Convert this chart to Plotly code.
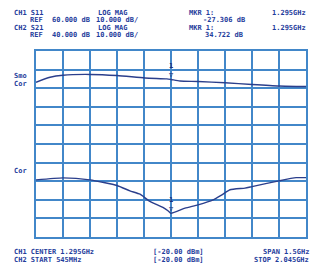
import plotly.graph_objects as go

# ---- data ----
ch1_freq_mhz = [545, 623, 695, 845, 995, 1151, 1272, 1295, 1345, 1445, 1595, 1745, 1895, 2045]
ch1_s11_db = [-28.8, -26.1, -25.0, -24.6, -25.2, -26.5, -27.0, -27.306, -28.1, -28.4, -29.1, -30.0, -30.8, -31.1]

ch2_freq_mhz = [545, 695, 845, 995, 1067, 1123, 1178, 1250, 1278, 1295, 1373, 1445,
                1529, 1578, 1623, 1706, 1745, 1895, 1990, 2045]
ch2_s21_db = [52.7, 53.8, 52.7, 49.7, 46.8, 45.0, 41.1, 37.9, 36.1, 34.722, 37.5, 39.3,
              42.0, 44.7, 47.4, 48.3, 49.1, 52.2, 53.9, 53.9]

marker_freq_mhz = 1295
marker_ch1_db = -27.306
marker_ch2_db = 34.722

header_rows = [
    ["CH1 S11", "LOG MAG", "MKR 1:", "1.295GHz"],
    ["REF", "60.000 dB", "10.000 dB/", "-27.306 dB"],
    ["CH2 S21", "LOG MAG", "MKR 1:", "1.295GHz"],
    ["REF", "40.000 dB", "10.000 dB/", "34.722 dB"],
]
footer_rows = [
    ["CH1 CENTER 1.295GHz", "[-20.00 dBm]", "SPAN 1.5GHz"],
    ["CH2 START 545MHz", "[-20.00 dBm]", "STOP 2.045GHz"],
]

# ---- style ----
W, H = 320, 275
L, R, T, B = 36, 14, 51, 38
GRID = "#4287c9"
TRACE = "#2b3f8c"
TXT = "#1f3d9c"
FONT = "DejaVu Sans Mono"
FS = 7

pw, ph = W - L - R, H - T - B


def px(xp):
    return (xp - L) / pw


def py(yp):
    return (H - B - yp) / ph


fig = go.Figure()
fig.add_trace(go.Scatter(x=ch1_freq_mhz, y=ch1_s11_db, mode="lines",
                         line=dict(color=TRACE, width=1.4, shape="spline", smoothing=0.6),
                         yaxis="y", hoverinfo="skip", showlegend=False))
fig.add_trace(go.Scatter(x=ch2_freq_mhz, y=ch2_s21_db, mode="lines",
                         line=dict(color=TRACE, width=1.4, shape="spline", smoothing=0.5),
                         yaxis="y2", hoverinfo="skip", showlegend=False))

anns = []
# markers: "1" above an open down-triangle whose tip sits on the trace
for yref, val in (("y", marker_ch1_db), ("y2", marker_ch2_db)):
    anns.append(dict(x=marker_freq_mhz, y=val, xref="x", yref=yref,
                     text="<b>1</b><br>▽",
                     showarrow=False, yanchor="bottom", yshift=-1, borderpad=0,
                     font=dict(family="DejaVu Sans Mono", size=7, color="#1f2f78")))

header_y = [13.5, 20.5, 28, 35]
header_x = [(12.7, "left"), (97, "left"), (188, "left"), (307, "right")]
header_x2 = [(29, "left"), (51, "left"), (95, "left"), (202, "left")]
for i, row in enumerate(header_rows):
    xs = header_x if i % 2 == 0 else header_x2
    for j, t in enumerate(row):
        xp, anc = xs[j]
        if i == 3 and j == 3:
            xp = 204
        anns.append(dict(x=px(xp), y=py(header_y[i]), xref="paper", yref="paper",
                         text="<b>" + t + "</b>", showarrow=False, xanchor=anc,
                         yanchor="middle", borderpad=0,
                         font=dict(family=FONT, size=FS, color=TXT)))

footer_y = [251.5, 259.5]
footer_x = [(13.3, "left"), (151.7, "left"), (310, "right")]
for i, row in enumerate(footer_rows):
    for j, t in enumerate(row):
        xp, anc = footer_x[j]
        anns.append(dict(x=px(xp), y=py(footer_y[i]), xref="paper", yref="paper",
                         text="<b>" + t + "</b>", showarrow=False, xanchor=anc,
                         yanchor="middle", borderpad=0,
                         font=dict(family=FONT, size=FS, color=TXT)))

for t, yp in (("Smo", 75.7), ("Cor", 84), ("Cor", 171)):
    anns.append(dict(x=px(12.7), y=py(yp), xref="paper", yref="paper",
                     text="<b>" + t + "</b>", showarrow=False, xanchor="left",
                     yanchor="middle", borderpad=0,
                     font=dict(family=FONT, size=FS, color=TXT)))

fig.update_layout(
    width=W, height=H,
    margin=dict(l=L, r=R, t=T, b=B, pad=0),
    paper_bgcolor="white", plot_bgcolor="white",
    showlegend=False,
    xaxis=dict(range=[545, 2045], dtick=150, tick0=545, showgrid=True, gridcolor=GRID,
               gridwidth=1.5, showline=True, mirror=True, linecolor=GRID, linewidth=1.5,
               showticklabels=False, ticks="", zeroline=False, fixedrange=True),
    yaxis=dict(range=[-112, -12], dtick=10, tick0=-112, showgrid=True, gridcolor=GRID,
               gridwidth=1.5, showline=True, mirror=True, linecolor=GRID, linewidth=1.5,
               showticklabels=False, ticks="", zeroline=False, fixedrange=True),
    yaxis2=dict(range=[22, 122], overlaying="y", showgrid=False, showticklabels=False,
                ticks="", zeroline=False, showline=False, fixedrange=True),
    annotations=anns,
)

fig.write_html("out.html")
